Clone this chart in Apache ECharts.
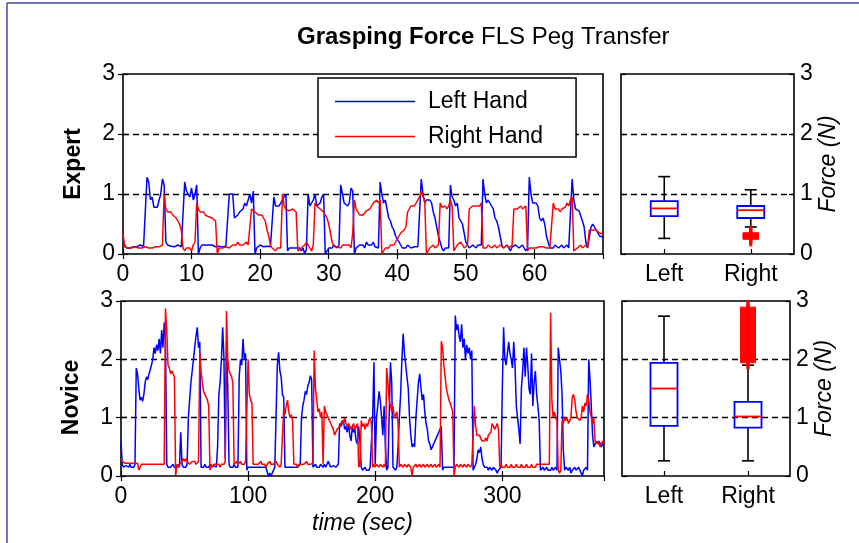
<!DOCTYPE html>
<html>
<head>
<meta charset="utf-8">
<script src="https://cdn.jsdelivr.net/npm/echarts@6/dist/echarts.min.js"></script>
<style>
  html, body { margin: 0; padding: 0; background: #fff; }
  #chart { width: 859px; height: 543px; }
</style>
</head>
<body>
<div id="chart"></div>
<script>
// Grasping force (N) per hand, expert trial sampled every 0.25 s
const expertStep = 0.25;
const expertLeft = [
  0.2,0.15,0.1,0.12, 0.1,0.13,0.12,0.15, 0.12,0.13,0.15,0.12, 0.13,0.15,1.28,1.2,
  0.9,0.95,0.78,0.75, 0.78,0.8,1.0,1.25, 1.15,0.2,0.15,0.12, 0.13,0.15,0.12,0.13,
  0.15,0.13,0.12,0.15, 1.2,1.05,1.0,0.95, 1.1,0.9,1.0,1.15, 0.0,0.1,0.15,0.13,
  0.15,0.12,0.15,0.13, 0.15,0.15,0.12,0.15, 0.13,0.15,0.12,0.15, 0.13,0.12,1.0,1.0,
  1.0,0.6,0.62,0.65, 0.7,0.68,0.75,0.85, 0.8,0.9,1.0,0.85, 1.05,0.0,0.1,0.12,
  0.15,0.13,0.12,0.15, 0.13,0.1,0.12,0.15, 0.95,0.8,0.82,0.8, 0.85,0.83,0.95,1.0,
  0.05,0.1,0.12,0.1, 0.08,0.1,0.12,0.1, 0.05,0.1,0.0,0.08, 1.0,0.8,0.85,0.9,
  1.0,0.8,0.78,0.85, 0.95,1.0,0.0,0.05, 0.1,0.12,0.1,0.15, 0.12,0.1,0.15,1.15,
  1.0,0.85,0.82,0.8, 0.85,1.1,1.05,0.0, 0.1,0.12,0.15,0.12, 0.15,0.1,0.2,0.15,
  0.12,0.15,0.2,0.12, 0.15,0.1,1.2,1.0, 0.85,0.9,0.75,0.6, 0.55,0.45,0.4,0.3,
  0.25,0.2,0.15,0.1, 0.12,0.1,0.15,0.12, 0.1,0.13,0.12,0.1, 0.12,0.15,1.25,1.0,
  0.85,0.9,0.88,0.9, 0.85,0.7,0.6,0.45, 0.3,0.2,0.1,0.05, 0.1,0.12,0.1,1.15,
  0.95,0.9,0.8,0.85, 0.6,0.55,0.5,0.35, 0.2,0.15,0.1,0.12, 0.15,0.12,0.1,0.15,
  0.12,0.15,1.25,1.0, 0.85,0.9,0.88,0.8, 0.75,0.6,0.55,0.45, 0.3,0.15,0.1,0.12,
  0.15,0.1,0.05,0.12, 0.1,0.15,0.12,0.1, 0.12,0.15,0.1,0.05, 0.1,1.28,1.0,0.85,
  0.88,0.85,0.8,0.6, 0.55,0.6,0.5,0.3, 0.2,0.1,0.12,0.1, 0.15,0.12,0.1,0.12,
  0.15,0.1,0.12,0.15, 0.1,0.12,1.25,0.9, 0.75,0.78,0.72,0.75, 0.55,0.45,0.2,0.1,
  0.1,0.45,0.5,0.45, 0.4,0.35,0.3,0.3, 0.28
];
const expertRight = [
  0.35,0.12,0.1,0.1, 0.08,0.1,0.1,0.12, 0.1,0.1,0.08,0.1, 0.1,0.12,0.1,0.1,
  0.08,0.1,0.1,0.12, 0.1,0.12,0.15,0.15, 1.0,0.75,0.7,0.72, 0.7,0.65,0.62,0.6,
  0.55,0.5,0.4,0.1, 0.05,0.1,0.08,0.1, 0.05,0.15,0.2,0.85, 0.75,0.7,0.68,0.7,
  0.65,0.65,0.62,0.6, 0.6,0.58,0.55,0.0, 0.1,0.12,0.1,0.1, 0.12,0.1,0.1,0.12,
  0.15,0.12,0.15,0.2, 0.15,0.12,0.15,0.18, 0.2,0.15,0.12,0.75, 0.78,0.7,0.72,0.65,
  0.68,0.65,0.6,0.55, 0.4,0.3,0.15,0.1, 0.1,0.05,0.1,0.12, 0.1,1.0,0.8,0.75,
  0.75,0.72,0.75,0.75, 0.72,0.7,0.05,0.05, 0.1,0.12,0.15,0.2, 0.15,0.1,0.05,0.15,
  0.85,0.8,0.8,0.75, 0.72,0.7,0.65,0.6, 0.5,0.35,0.2,0.12, 0.1,0.12,0.15,0.1,
  0.15,0.12,0.15,0.12, 0.15,0.1,0.35,0.9, 0.75,0.7,0.65,0.62, 0.65,0.68,0.72,0.75,
  0.75,0.8,0.85,0.88, 0.9,0.85,0.9,0.0, 0.05,0.1,0.12,0.1, 0.15,0.12,0.15,0.2,
  0.25,0.3,0.35,0.35, 0.4,0.45,0.7,0.75, 0.8,0.78,0.8,0.85, 0.9,0.95,1.05,0.95,
  0.9,0.0,0.05,0.1, 0.12,0.15,0.1,0.12, 0.15,0.85,0.78,0.75, 0.8,0.75,0.8,0.9,
  0.8,0.05,0.1,0.15, 0.12,0.2,0.15,0.1, 0.12,0.15,0.75,0.78, 0.8,0.78,0.8,0.82,
  0.8,0.85,0.1,0.12, 0.1,0.15,0.12,0.1, 0.12,0.15,0.1,0.12, 0.15,0.12,0.1,0.12,
  0.15,0.1,0.12,0.15, 0.75,0.78,0.75,0.78, 0.8,0.75,0.78,0.8, 0.05,0.1,0.12,0.1,
  0.12,0.1,0.1,0.12, 0.1,0.12,0.15,0.1, 0.12,0.1,0.1,0.85, 0.75,0.72,0.75,0.7,
  0.75,0.72,0.78,0.85, 0.8,0.9,0.95,0.05, 0.05,0.1,0.12,0.15, 0.1,0.12,0.15,0.1,
  0.4,0.42,0.4,0.38, 0.4,0.38,0.35,0.35, 0.33
];

// Novice trial sampled every 1 s
const noviceStep = 1;
const noviceLeft = [
  0.6,0.2,0.15,0.15,0.18,0.15,0.15,0.2,0.15,0.15,
  0.15,0.2,1.85,1.75,1.5,1.3,1.35,1.28,1.4,1.6,
  1.7,1.65,1.75,1.72,1.9,2.0,2.2,2.1,2.25,2.15,
  2.35,2.1,2.5,2.2,2.63,2.3,0.2,0.15,0.18,0.15,
  0.15,0.2,0.15,0.18,0.15,0.2,0.15,0.75,0.2,0.15,
  0.18,0.15,0.2,1.0,1.3,1.6,1.8,2.0,2.2,2.4,
  2.55,2.2,2.3,0.15,0.18,0.15,0.2,0.15,0.18,0.15,
  0.2,0.15,0.15,0.18,0.2,0.15,0.5,1.4,1.6,2.0,
  2.55,2.0,0.3,2.3,1.5,0.2,0.15,0.18,0.15,0.2,
  0.15,0.18,0.15,1.7,2.0,1.9,2.35,2.0,2.1,0.1,
  0.15,0.12,0.15,0.18,0.15,0.12,0.15,0.18,0.15,0.12,
  0.15,0.18,0.15,0.12,0.15,0.12,0.0,0.05,0.0,0.05,
  0.1,0.15,0.12,1.9,2.12,1.8,1.7,1.4,1.35,0.15,
  0.12,0.15,0.18,0.15,0.12,0.15,0.18,0.15,0.12,0.15,
  0.15,0.2,1.0,1.2,1.3,1.45,1.4,1.55,1.6,1.72,
  1.65,0.15,0.18,0.2,0.15,0.12,0.15,0.2,0.18,0.15,
  0.2,0.15,0.12,0.25,0.2,0.15,0.12,0.18,0.2,0.15,
  0.15,0.2,0.9,0.85,0.9,0.95,0.8,0.85,0.75,0.9,
  0.7,0.6,0.85,0.75,0.8,0.6,0.55,0.85,0.6,0.15,
  0.1,0.12,0.15,0.1,0.12,0.1,0.15,0.12,1.0,1.95,
  0.2,1.0,1.2,1.45,1.3,1.0,0.7,1.2,0.5,0.1,
  0.15,0.12,1.95,1.6,0.15,0.12,0.1,0.15,0.5,1.0,
  1.4,2.0,2.44,2.1,1.9,1.7,1.5,1.0,0.7,0.5,
  0.55,0.5,1.0,1.3,1.6,1.75,1.5,1.3,1.4,1.1,
  0.9,0.8,0.6,0.55,0.45,0.5,0.55,0.6,0.65,0.7,
  0.75,0.8,0.85,0.1,0.15,0.12,0.15,0.18,0.15,0.12,
  0.15,0.12,0.15,2.75,2.5,2.6,2.4,2.3,2.6,2.2,
  2.35,2.0,2.25,2.1,2.2,2.0,2.15,0.1,0.15,0.2,
  0.3,0.45,0.4,0.5,0.3,0.2,0.15,0.12,0.15,0.1,
  0.15,0.12,0.1,0.15,0.12,0.1,0.05,0.1,0.12,0.15,
  1.5,2.55,2.0,1.9,2.1,2.3,2.1,2.0,1.85,2.3,
  1.9,1.2,1.0,0.8,0.55,1.5,1.8,2.2,1.7,2.2,
  1.9,1.5,1.4,2.1,1.2,1.6,1.8,1.4,1.2,0.95,
  0.1,0.12,0.15,0.1,0.12,0.15,0.1,0.12,0.1,0.15,
  0.1,0.12,0.15,0.1,2.2,2.0,1.8,1.4,0.45,0.1,
  0.15,0.12,0.1,0.15,0.05,0.1,0.12,0.15,0.1,0.12,
  0.15,0.1,0.05,0.0,0.1,0.12,0.15,0.1,2.0,1.65,
  1.2,0.7,0.5,0.55,0.6,0.55,0.6,0.55,0.5,0.55,0.6
];
const noviceRight = [
  0.3,0.25,0.22,0.22,0.25,0.22,0.2,0.22,0.25,0.22,
  0.2,0.22,0.25,0.22,0.1,0.15,0.2,0.22,0.2,0.22,
  0.2,0.18,0.2,0.22,0.2,0.22,0.2,0.22,0.2,0.22,
  0.2,0.22,0.2,0.22,0.2,2.87,2.5,1.9,1.85,1.75,
  1.8,1.75,1.7,0.0,0.2,0.15,0.2,0.22,0.25,0.3,
  0.25,0.3,0.25,0.22,0.2,0.22,0.25,0.22,0.25,0.2,
  0.22,0.25,2.11,1.8,1.6,1.45,1.4,1.35,1.3,1.2,
  0.1,0.2,0.15,0.2,0.18,0.2,0.22,0.2,0.15,0.2,
  0.22,0.2,0.25,2.83,2.0,1.8,1.75,1.7,1.6,0.2,
  0.22,0.25,0.2,0.22,0.25,0.2,0.22,0.2,0.25,0.22,
  2.0,1.4,1.3,1.25,0.2,0.22,0.2,0.18,0.2,0.22,
  0.25,0.2,0.22,0.2,0.15,0.2,0.22,0.25,0.2,0.18,
  0.2,0.22,0.25,0.2,0.22,0.15,0.2,0.22,1.15,1.05,
  1.2,1.3,1.1,1.0,1.05,0.95,0.2,0.22,0.2,0.15,
  0.2,0.22,0.2,0.18,0.2,0.22,0.25,0.2,0.22,0.2,
  0.2,0.22,2.15,1.5,1.3,1.1,1.15,1.0,1.1,0.2,
  1.2,1.1,1.05,1.0,0.95,0.9,0.85,0.8,0.7,0.75,
  0.8,0.8,0.85,0.9,0.95,0.9,1.0,0.9,0.85,0.9,
  0.85,0.8,0.85,0.9,0.8,0.85,0.9,0.15,0.2,0.95,
  0.85,0.9,0.8,0.9,0.85,0.95,1.0,0.9,0.15,0.2,
  0.15,0.2,0.18,0.15,0.2,0.18,0.15,0.2,0.15,1.85,
  1.6,1.3,1.2,1.1,1.2,1.0,1.05,1.1,0.9,0.15,
  0.2,0.18,0.15,0.2,0.18,0.15,0.2,0.18,0.15,0.0,
  0.15,0.18,0.2,0.15,0.18,0.2,0.15,0.18,0.2,0.15,
  0.18,0.2,0.15,0.18,0.2,0.15,0.18,0.2,0.15,0.18,
  0.2,0.15,2.31,2.2,1.9,1.7,1.5,1.4,1.3,1.25,
  1.25,1.1,0.0,0.15,0.2,0.18,0.15,0.2,0.18,0.15,
  0.2,0.18,0.15,0.2,0.18,0.15,0.2,0.18,1.2,0.85,
  0.7,0.72,0.7,0.65,0.6,0.62,0.6,0.65,0.6,0.7,
  0.72,0.75,0.9,0.85,0.8,0.85,0.9,0.8,0.15,0.2,
  0.15,0.18,0.15,0.2,0.15,0.18,0.15,0.2,0.15,0.18,
  0.15,0.2,0.15,0.18,0.15,0.2,0.15,0.18,0.15,0.2,
  0.15,0.18,0.15,0.2,0.15,0.18,0.15,0.2,0.18,0.2,
  0.22,0.2,0.18,0.2,0.22,0.2,0.18,0.2,2.8,1.3,
  1.0,1.1,1.0,0.95,0.1,0.05,0.1,0.95,0.9,1.0,
  0.95,1.0,0.9,0.95,1.0,1.35,1.4,1.3,1.1,1.0,
  1.0,0.95,1.0,1.2,1.1,1.25,1.2,1.4,1.3,1.1,
  1.0,0.9,1.0,0.6,0.55,0.6,0.55,0.5,0.55,0.6,0.55
];

// Box-plot summaries: [lower whisker, Q1, median, Q3, upper whisker]
const boxCategories = ['Left', 'Right'];
const expertBox = [[0.26, 0.63, 0.76, 0.88, 1.29], [0.45, 0.60, 0.73, 0.80, 1.07]];
const noviceBox = [[0.26, 0.86, 1.50, 1.94, 2.74], [0.26, 0.83, 1.02, 1.27, 1.90]];
// Outliers of the right hand (category index 1)
const expertRightOutliers = [0.26, 0.27, 0.28, 0.29, 0.30, 0.31, 0.32, 0.33, 0.34];
const noviceRightOutliers = [1.96, 1.97, 1.98, 2.00, 2.01, 2.03, 2.05, 2.06, 2.07, 2.09, 2.10,
  2.12, 2.14, 2.15, 2.17, 2.19, 2.21, 2.23, 2.24, 2.26, 2.28, 2.30, 2.31, 2.33, 2.35, 2.37,
  2.39, 2.40, 2.42, 2.44, 2.46, 2.48, 2.49, 2.52, 2.53, 2.55, 2.57, 2.58, 2.61, 2.62, 2.65,
  2.66, 2.68, 2.70, 2.72, 2.74, 2.76, 2.77, 2.80, 2.81, 2.83, 2.85, 2.86, 2.88];

const FONT = 'Liberation Sans';
const BLUE = '#0000ff', RED = '#ff0000';

function toPairs(values, step) {
  return values.map((v, i) => [i * step, v]);
}

const labelStyle = { color: '#000', fontSize: 23, fontFamily: FONT };
const tickIn = { show: true, inside: true, length: 5, lineStyle: { color: '#000', width: 1.2 } };
const dashed = { show: true, showMinLine: false, showMaxLine: false,
  lineStyle: { color: '#000', width: 1.4, type: [6, 4] } };
const forceAxis = {
  type: 'value', min: 0, max: 3, interval: 1,
  axisLine: { show: false }, splitLine: { show: false }
};

const grids = [
  { left: 123, top: 74, width: 480, height: 180 },   // expert trace
  { left: 621, top: 74, width: 173, height: 180 },   // expert box
  { left: 121, top: 301, width: 483, height: 175 },  // novice trace
  { left: 622, top: 301, width: 168, height: 175 }   // novice box
].map(g => Object.assign({ show: true, borderColor: '#000', borderWidth: 1.6, backgroundColor: '#fff' }, g));

const xAxes = [];
const yAxes = [];
function timeAxes(grid, max, interval, name) {
  xAxes.push({
    type: 'value', gridIndex: grid, min: 0, max: max, interval: interval,
    axisLine: { show: false }, axisTick: tickIn, splitLine: { show: false },
    axisLabel: Object.assign({ margin: 9, showMaxLabel: false }, labelStyle),
    name: name || '', nameLocation: 'middle', nameGap: 36,
    nameTextStyle: { color: '#000', fontSize: 23, fontFamily: FONT, fontStyle: 'italic' }
  });
  xAxes.push({
    type: 'value', gridIndex: grid, position: 'top', min: 0, max: max, interval: interval,
    axisLine: { show: false }, axisTick: tickIn, axisLabel: { show: false }, splitLine: { show: false }
  });
}
function boxAxes(grid) {
  xAxes.push({
    type: 'category', gridIndex: grid, data: boxCategories,
    axisLine: { show: false }, axisTick: { show: true, inside: true, alignWithLabel: true, length: 5, lineStyle: { color: '#000', width: 1.2 } },
    axisLabel: Object.assign({ margin: 9 }, labelStyle), splitLine: { show: false }
  });
}
function leftForce(grid, name, withLabels, namePadding) {
  yAxes.push(Object.assign({}, forceAxis, {
    gridIndex: grid, position: 'left', axisTick: tickIn, splitLine: dashed,
    axisLabel: Object.assign({ show: withLabels, margin: 8 }, labelStyle),
    name: name, nameLocation: 'middle', nameRotate: 90, nameGap: 38,
    nameTextStyle: { color: '#000', fontSize: 23, fontFamily: FONT, fontWeight: 'bold',
      padding: namePadding || 0 }
  }));
}
function rightForce(grid, withLabels) {
  yAxes.push(Object.assign({}, forceAxis, {
    gridIndex: grid, position: 'right', axisTick: tickIn,
    axisLabel: Object.assign({ show: withLabels, margin: 6 }, labelStyle),
    name: withLabels ? 'Force (N)' : '', nameLocation: 'middle', nameRotate: 90, nameGap: 22,
    nameTextStyle: { color: '#000', fontSize: 23, fontFamily: FONT, fontStyle: 'italic' }
  }));
}

// axis indices: x0 expert time, x1 expert time top, x2 expert box, x3 novice time, x4 novice time top, x5 novice box
timeAxes(0, 70, 10);
boxAxes(1);
timeAxes(2, 380, 100, 'time (sec)');
boxAxes(3);
// y indices: 0/1 expert trace, 2/3 expert box, 4/5 novice trace, 6/7 novice box
leftForce(0, 'Expert', true);                   rightForce(0, false);
leftForce(1, '', false);                        rightForce(1, true);
leftForce(2, 'Novice', true, [0, 18, 0, 0]);    rightForce(2, false);
leftForce(3, '', false);                        rightForce(3, true);

function renderBox(params, api) {
  const idx = api.value(0);
  const p = [1, 2, 3, 4, 5].map(k => api.coord([idx, api.value(k)]));
  const cx = p[0][0];
  const hw = 13.5, cw = 6;
  const black = { stroke: '#000', lineWidth: 1.6 };
  return {
    type: 'group',
    children: [
      { type: 'line', shape: { x1: cx, y1: p[3][1], x2: cx, y2: p[4][1] }, style: black },
      { type: 'line', shape: { x1: cx, y1: p[0][1], x2: cx, y2: p[1][1] }, style: black },
      { type: 'line', shape: { x1: cx - cw, y1: p[4][1], x2: cx + cw, y2: p[4][1] }, style: black },
      { type: 'line', shape: { x1: cx - cw, y1: p[0][1], x2: cx + cw, y2: p[0][1] }, style: black },
      { type: 'rect', shape: { x: cx - hw, y: p[3][1], width: 2 * hw, height: p[1][1] - p[3][1] },
        style: { fill: 'none', stroke: BLUE, lineWidth: 1.8 } },
      { type: 'line', shape: { x1: cx - hw, y1: p[2][1], x2: cx + hw, y2: p[2][1] },
        style: { stroke: RED, lineWidth: 1.8 } }
    ]
  };
}

const PLUS = 'path://M0,6.5h16v3h-16zM6.6,0h2.8v16h-2.8z';

function traceSeries(name, color, data, xi, yi, z) {
  return {
    type: 'line', name: name, xAxisIndex: xi, yAxisIndex: yi,
    data: data, showSymbol: false, symbol: 'none', animation: false, z: z,
    lineStyle: { color: color, width: 1.5 }, itemStyle: { color: color }
  };
}

const series = [
  traceSeries('Left Hand', BLUE, toPairs(expertLeft, expertStep), 0, 0, 2),
  traceSeries('Right Hand', RED, toPairs(expertRight, expertStep), 0, 0, 3),
  traceSeries('Left Hand', BLUE, toPairs(noviceLeft, noviceStep), 3, 4, 2),
  traceSeries('Right Hand', RED, toPairs(noviceRight, noviceStep), 3, 4, 3),
  {
    type: 'custom', xAxisIndex: 2, yAxisIndex: 2, renderItem: renderBox, animation: false,
    data: expertBox.map((s, i) => [i].concat(s)), encode: { x: 0, y: [1, 2, 3, 4, 5] }, z: 3
  },
  {
    type: 'custom', xAxisIndex: 5, yAxisIndex: 6, renderItem: renderBox, animation: false,
    data: noviceBox.map((s, i) => [i].concat(s)), encode: { x: 0, y: [1, 2, 3, 4, 5] }, z: 3
  },
  {
    type: 'scatter', xAxisIndex: 2, yAxisIndex: 2, symbol: PLUS, symbolSize: 16, animation: false,
    itemStyle: { color: RED }, data: expertRightOutliers.map(v => [1, v]), z: 4
  },
  {
    type: 'scatter', xAxisIndex: 5, yAxisIndex: 6, symbol: PLUS, symbolSize: 16, animation: false,
    itemStyle: { color: RED }, data: noviceRightOutliers.map(v => [1, v]), z: 4
  }
];

const chart = echarts.init(document.getElementById('chart'), null, { renderer: 'canvas' });
chart.setOption({
  backgroundColor: '#fff',
  animation: false,
  title: {
    text: '{b|Grasping Force} {n|FLS Peg Transfer}',
    left: 292, top: 20,
    textStyle: {
      fontWeight: 'normal', fontSize: 24, fontFamily: FONT, color: '#000',
      rich: {
        b: { fontSize: 24, fontWeight: 'bold', fontFamily: FONT, color: '#000' },
        n: { fontSize: 24, fontWeight: 'normal', fontFamily: FONT, color: '#000' }
      }
    }
  },
  legend: {
    data: [
      { name: 'Left Hand', icon: 'rect', itemStyle: { color: BLUE } },
      { name: 'Right Hand', icon: 'rect', itemStyle: { color: RED } }
    ],
    orient: 'vertical', left: 318, top: 78,
    padding: [12, 33, 9, 17], itemGap: 12,
    itemWidth: 80, itemHeight: 1.6,
    borderColor: '#000', borderWidth: 1.5, backgroundColor: '#fff',
    selectedMode: false,
    textStyle: { color: '#000', fontSize: 23, fontFamily: FONT, padding: [0, 0, 0, 8] }
  },
  grid: grids,
  xAxis: xAxes,
  yAxis: yAxes,
  series: series,
  graphic: [
    { type: 'line', shape: { x1: 7, y1: 3, x2: 859, y2: 3 }, style: { stroke: '#3c48a8', lineWidth: 1.5 } },
    { type: 'line', shape: { x1: 7, y1: 3, x2: 7, y2: 543 }, style: { stroke: '#3c48a8', lineWidth: 1.5 } }
  ]
});
</script>
</body>
</html>
